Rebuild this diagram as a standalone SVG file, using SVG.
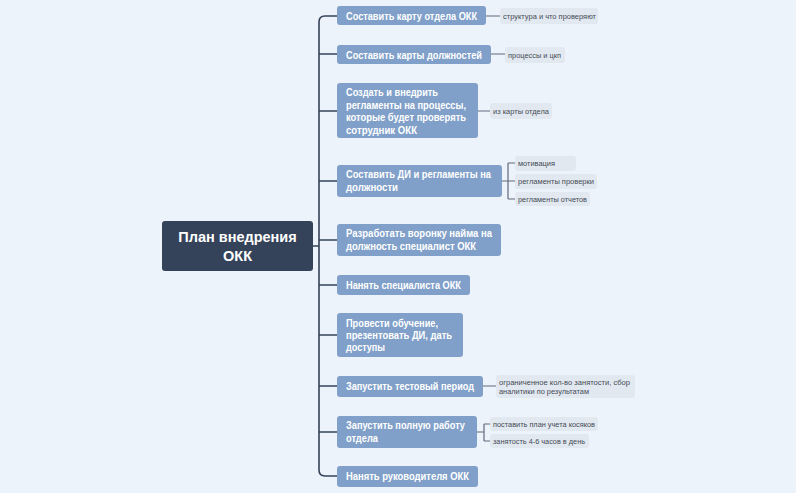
<svg xmlns="http://www.w3.org/2000/svg" width="796" height="493" viewBox="0 0 796 493">
<style>
.n{fill:#809fc9}
.t{font-family:"Liberation Sans",sans-serif;font-weight:bold;font-size:10px;fill:#fff}
.l{fill:#e2e8f0}
.s{font-family:"Liberation Sans",sans-serif;font-size:7.5px;fill:#444b55}
.c{fill:none;stroke:#344359;stroke-width:1.6}
.c2{fill:none;stroke:#5f6b7a;stroke-width:1.2}
</style>
<rect width="796" height="493" fill="#edf3fa"/>
<g id="connectors">
<path class="c" d="M313,246H319M337,16H325Q319,16 319,22V470Q319,476 325,476H337M319,54H337M319,111H337M319,181H337M319,240H337M319,285H337M319,335H337M319,386H337M319,432H337"/>
<path class="c2" d="M486,16H500M491,54H505M478,111H490M502,181H515M508,163V199M508,163H515M508,199H515M483,386H496M477,432H484M484,424V441M484,424H490M484,441H490"/>
</g>
<g id="root"><rect x="162" y="221" width="151" height="50" rx="3" fill="#344359"/>
<text x="237.5" y="242" text-anchor="middle" class="t" style="font-size:14.5px">План внедрения</text>
<text x="237.5" y="261" text-anchor="middle" class="t" style="font-size:14.5px">ОКК</text></g>
<g id="n1"><rect class="n" x="337" y="6" width="149" height="19" rx="3"/><text class="t" x="346" y="19.5" textLength="131" lengthAdjust="spacingAndGlyphs">Составить карту отдела ОКК</text></g>
<g id="n2"><rect class="n" x="337" y="45" width="154" height="19" rx="3"/><text class="t" x="346" y="58.5" textLength="136" lengthAdjust="spacingAndGlyphs">Составить карты должностей</text></g>
<g id="n3"><rect class="n" x="337" y="83" width="141" height="55" rx="3"/><text class="t" x="346" y="96" textLength="92" lengthAdjust="spacingAndGlyphs">Создать и внедрить</text><text class="t" x="346" y="108.5" textLength="120" lengthAdjust="spacingAndGlyphs">регламенты на процессы,</text><text class="t" x="346" y="121" textLength="120" lengthAdjust="spacingAndGlyphs">которые будет проверять</text><text class="t" x="346" y="133.5" textLength="71" lengthAdjust="spacingAndGlyphs">сотрудник ОКК</text></g>
<g id="n4"><rect class="n" x="337" y="165" width="165" height="32" rx="3"/><text class="t" x="346" y="178" textLength="145" lengthAdjust="spacingAndGlyphs">Составить ДИ и регламенты на</text><text class="t" x="346" y="190.5" textLength="52" lengthAdjust="spacingAndGlyphs">должности</text></g>
<g id="n5"><rect class="n" x="337" y="224" width="164" height="32" rx="3"/><text class="t" x="346" y="237" textLength="146" lengthAdjust="spacingAndGlyphs">Разработать воронку найма на</text><text class="t" x="346" y="249.5" textLength="130" lengthAdjust="spacingAndGlyphs">должность специалист ОКК</text></g>
<g id="n6"><rect class="n" x="337" y="275" width="133" height="20" rx="3"/><text class="t" x="346" y="288.5" textLength="115" lengthAdjust="spacingAndGlyphs">Нанять специалиста ОКК</text></g>
<g id="n7"><rect class="n" x="337" y="313" width="126" height="44" rx="3"/><text class="t" x="346" y="327" textLength="92" lengthAdjust="spacingAndGlyphs">Провести обучение,</text><text class="t" x="346" y="339" textLength="106" lengthAdjust="spacingAndGlyphs">презентовать ДИ, дать</text><text class="t" x="346" y="351" textLength="39" lengthAdjust="spacingAndGlyphs">доступы</text></g>
<g id="n8"><rect class="n" x="337" y="376" width="146" height="21" rx="3"/><text class="t" x="346" y="390" textLength="128" lengthAdjust="spacingAndGlyphs">Запустить тестовый период</text></g>
<g id="n9"><rect class="n" x="337" y="416" width="140" height="32" rx="3"/><text class="t" x="346" y="429" textLength="119" lengthAdjust="spacingAndGlyphs">Запустить полную работу</text><text class="t" x="346" y="441.5" textLength="32" lengthAdjust="spacingAndGlyphs">отдела</text></g>
<g id="n10"><rect class="n" x="337" y="466" width="141" height="21" rx="3"/><text class="t" x="346" y="480" textLength="123" lengthAdjust="spacingAndGlyphs">Нанять руководителя ОКК</text></g>
<g id="labels">
<rect class="l" x="500" y="8" width="98" height="16" rx="3"/><text class="s" x="503" y="18.5" textLength="93" lengthAdjust="spacingAndGlyphs">структура и что проверяют</text>
<rect class="l" x="505" y="47" width="60" height="16" rx="3"/><text class="s" x="508" y="57.5" textLength="53" lengthAdjust="spacingAndGlyphs">процессы и цкп</text>
<rect class="l" x="490" y="103" width="62" height="16" rx="3"/><text class="s" x="493" y="113.5" textLength="56" lengthAdjust="spacingAndGlyphs">из карты отдела</text>
<rect class="l" x="515" y="156" width="61" height="15" rx="3"/><text class="s" x="518" y="166" textLength="37" lengthAdjust="spacingAndGlyphs">мотивация</text>
<rect class="l" x="515" y="174" width="82" height="15" rx="3"/><text class="s" x="518" y="184" textLength="76" lengthAdjust="spacingAndGlyphs">регламенты проверки</text>
<rect class="l" x="515" y="192" width="75" height="14" rx="3"/><text class="s" x="518" y="202" textLength="69" lengthAdjust="spacingAndGlyphs">регламенты отчетов</text>
<rect class="l" x="496" y="375" width="139" height="23" rx="3"/><text class="s" x="499" y="384.5" textLength="131" lengthAdjust="spacingAndGlyphs">ограниченное кол-во занятости, сбор</text><text class="s" x="499" y="394" textLength="90" lengthAdjust="spacingAndGlyphs">аналитики по результатам</text>
<rect class="l" x="490" y="417" width="108" height="14" rx="3"/><text class="s" x="493" y="427" textLength="102" lengthAdjust="spacingAndGlyphs">поставить план учета косяков</text>
<rect class="l" x="490" y="434" width="99" height="14" rx="3"/><text class="s" x="493" y="444" textLength="92" lengthAdjust="spacingAndGlyphs">занятость 4-6 часов в день</text>
</g>
</svg>
